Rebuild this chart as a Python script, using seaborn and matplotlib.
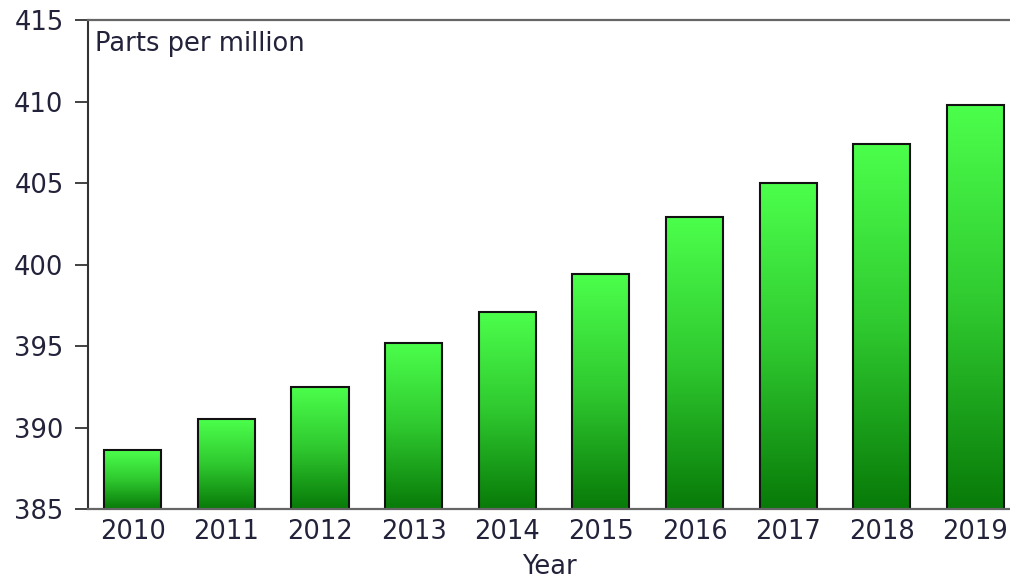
import numpy as np
import pandas as pd
import matplotlib
matplotlib.use("Agg")
import matplotlib.pyplot as plt
import seaborn as sns
from matplotlib.colors import LinearSegmentedColormap

years = ["2010", "2011", "2012", "2013", "2014", "2015", "2016", "2017", "2018", "2019"]
ppm = [388.6, 390.5, 392.5, 395.2, 397.1, 399.4, 402.9, 405.0, 407.4, 409.8]
yticks = [385, 390, 395, 400, 405, 410, 415]

sns.set_theme(style="white")
plt.rcParams['font.family'] = ['DejaVu Sans']

df = pd.DataFrame({"Year": years, "ppm": ppm})

fig = plt.figure(figsize=(10.1, 5.8), dpi=100)
ax = fig.add_axes([0.087, 0.1224, 0.913, 0.8431])

sns.barplot(data=df, x="Year", y="ppm", ax=ax, color="#3cd83c",
            width=0.61, edgecolor="#111111", linewidth=1.5)

cmap = LinearSegmentedColormap.from_list("g", ["#087a08", "#2fc92f", "#4cff4c"])
grad = np.linspace(0, 1, 256).reshape(-1, 1)
for p in ax.patches:
    x0, y0 = p.get_x(), p.get_y()
    w, h = p.get_width(), p.get_height()
    p.set_facecolor("none")
    im = ax.imshow(grad, cmap=cmap, origin="lower", aspect="auto",
                   extent=[x0, x0 + w, 385, y0 + h], zorder=p.get_zorder() - 0.1)
    im.set_clip_path(p)
ax.set_ylim(385, 415)
ax.set_xlim(-0.48, 9.37)
ax.set_aspect("auto")

txt_color = "#22223a"
fs = 18.5
ax.set_yticks(yticks)
ax.set_yticklabels([str(v) for v in yticks], fontsize=fs, color=txt_color)
ax.tick_params(axis="y", direction="out", length=9.5, width=1.3, color="#333333", pad=8, left=True)
ax.tick_params(axis="x", length=0, pad=7, labelsize=fs, labelcolor=txt_color)
ax.set_xlabel("Year", fontsize=fs, color=txt_color, labelpad=6.5)
ax.set_ylabel("")

ax.spines["left"].set_color("#333333")
ax.spines["left"].set_linewidth(1.5)
for s in ["top", "bottom"]:
    ax.spines[s].set_color("#666666")
    ax.spines[s].set_linewidth(1.6)
ax.spines["right"].set_visible(False)

ax.text(0.008, 0.978, "Parts per million", transform=ax.transAxes,
        ha="left", va="top", fontsize=fs, color=txt_color)

fig.savefig("out.png", dpi=100)
